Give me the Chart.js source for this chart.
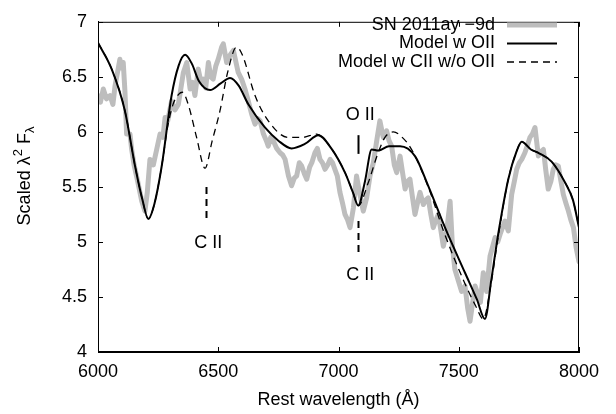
<!DOCTYPE html>
<html lang="en">
<head>
<meta charset="UTF-8">
<title>SN 2011ay spectrum</title>
<script src="https://cdn.jsdelivr.net/npm/chart.js@4.4.0/dist/chart.umd.js"></script>
<style>
  html, body { margin: 0; padding: 0; background: #fff; }
  canvas { display: block; }
</style>
</head>
<body>
<canvas id="spec" width="616" height="414"></canvas>
<script>
// Observed spectrum (gray)
const obsWave = [6000, 6010, 6022, 6035, 6050, 6062, 6071, 6082, 6091, 6100, 6105, 6112, 6119, 6133, 6140,
  6150, 6165, 6182, 6195, 6205, 6216, 6230, 6244, 6258, 6270, 6279, 6290, 6306, 6320, 6334, 6345, 6355,
  6369, 6383, 6393, 6403, 6417, 6428, 6438, 6448, 6459, 6469, 6479, 6490, 6500, 6514, 6521, 6535, 6550,
  6563, 6583, 6597, 6611, 6625, 6639, 6653, 6665, 6674, 6688, 6700, 6708, 6718, 6729, 6743, 6757, 6768,
  6778, 6792, 6805, 6816, 6826, 6837, 6847, 6858, 6868, 6880, 6889, 6902, 6912, 6923, 6933, 6944, 6955,
  6965, 6975, 6985, 6995, 7006, 7017, 7027, 7038, 7048, 7062, 7075, 7089, 7103, 7117, 7131, 7145, 7159,
  7172, 7186, 7200, 7210, 7221, 7232, 7242, 7256, 7267, 7277, 7287, 7297, 7308, 7318, 7328, 7339, 7353,
  7363, 7373, 7384, 7394, 7405, 7415, 7426, 7436, 7450, 7464, 7474, 7484, 7498, 7512, 7526, 7537, 7547,
  7558, 7568, 7580, 7590, 7602, 7616, 7630, 7640, 7651, 7662, 7672, 7692, 7706, 7720, 7731, 7741, 7752,
  7762, 7775, 7786, 7796, 7806, 7817, 7831, 7842, 7852, 7862, 7872, 7883, 7893, 7903, 7914, 7925, 7935,
  7946, 7956, 7966, 7977, 7988, 8000];
const obsFlux = [6.33, 6.27, 6.39, 6.30, 6.33, 6.25, 6.42, 6.55, 6.66, 6.58, 6.63, 6.37, 5.98, 5.98, 5.84,
  5.70, 5.55, 5.37, 5.28, 5.45, 5.75, 5.70, 5.84, 5.98, 5.95, 6.13, 6.10, 6.28, 6.20, 6.25, 6.40, 6.54,
  6.63, 6.39, 6.45, 6.33, 6.57, 6.45, 6.48, 6.40, 6.63, 6.50, 6.48, 6.60, 6.66, 6.77, 6.80, 6.63, 6.70,
  6.74, 6.54, 6.48, 6.39, 6.28, 6.16, 6.07, 6.12, 6.10, 5.98, 5.92, 5.87, 5.95, 5.92, 5.85, 5.81, 5.79,
  5.75, 5.60, 5.51, 5.58, 5.60, 5.72, 5.69, 5.62, 5.57, 5.68, 5.72, 5.81, 5.85, 5.75, 5.72, 5.66, 5.70,
  5.75, 5.72, 5.66, 5.60, 5.45, 5.35, 5.25, 5.20, 5.13, 5.31, 5.60, 5.43, 5.28, 5.40, 5.60, 5.72, 5.92,
  6.10, 5.95, 6.01, 5.92, 5.87, 5.70, 5.63, 5.78, 5.62, 5.48, 5.55, 5.57, 5.40, 5.25, 5.35, 5.45, 5.34,
  5.38, 5.40, 5.25, 5.13, 5.20, 5.25, 5.10, 4.96, 5.10, 5.37, 4.95, 4.75, 4.65, 4.55, 4.60, 4.40, 4.28,
  4.45, 4.60, 4.52, 4.45, 4.72, 4.55, 4.87, 4.95, 5.04, 5.00, 5.07, 5.19, 5.10, 5.43, 5.55, 5.66, 5.72,
  5.75, 5.81, 5.88, 5.95, 5.98, 6.04, 5.78, 5.82, 5.84, 5.65, 5.48, 5.55, 5.66, 5.70, 5.69, 5.55, 5.43,
  5.35, 5.28, 5.20, 5.13, 4.95, 4.82];

// Model with O II (solid black)
const modelWave = [6000, 6057, 6112, 6154, 6185, 6209, 6235, 6265, 6306, 6335, 6362, 6390, 6420, 6466,
  6510, 6549, 6585, 6625, 6694, 6750, 6805, 6860, 6916, 6970, 7027, 7060, 7082, 7110, 7138, 7166, 7210,
  7256, 7318, 7373, 7443, 7526, 7575, 7609, 7635, 7664, 7706, 7740, 7762, 7800, 7831, 7886, 7942, 7975, 8000];
const modelFlux = [6.81, 6.57, 6.19, 5.69, 5.38, 5.21, 5.35, 5.69, 6.33, 6.60, 6.70, 6.62, 6.46, 6.38,
  6.44, 6.49, 6.42, 6.25, 6.04, 5.92, 5.85, 5.89, 5.97, 5.85, 5.63, 5.45, 5.33, 5.55, 5.84, 5.83, 5.87,
  5.87, 5.78, 5.51, 5.13, 4.72, 4.48, 4.30, 4.65, 5.07, 5.57, 5.82, 5.91, 5.84, 5.81, 5.73, 5.54, 5.38, 5.13];

// Model with C II, without O II (dashed)
const noOWave = [6000, 6057, 6112, 6154, 6185, 6209, 6235, 6265, 6290, 6312, 6335, 6351, 6375, 6410,
  6445, 6475, 6507, 6540, 6576, 6600, 6653, 6708, 6791, 6850, 6909, 6970, 7027, 7060, 7082, 7124, 7160,
  7193, 7228, 7265, 7304, 7373, 7440, 7520, 7570, 7602, 7635, 7664, 7706, 7740, 7762, 7800, 7831, 7886,
  7942, 7975, 8000];
const noOFlux = [6.81, 6.57, 6.19, 5.69, 5.38, 5.21, 5.35, 5.69, 6.05, 6.25, 6.34, 6.36, 6.25, 5.95,
  5.67, 5.92, 6.19, 6.55, 6.77, 6.70, 6.33, 6.10, 5.95, 5.95, 5.98, 5.85, 5.63, 5.45, 5.33, 5.54, 5.78,
  5.95, 6.00, 5.95, 5.84, 5.50, 5.08, 4.65, 4.42, 4.30, 4.63, 5.05, 5.57, 5.82, 5.91, 5.84, 5.81, 5.73,
  5.54, 5.38, 5.13];

const seriesLabels = ['SN 2011ay \u22129d', 'Model w OII', 'Model w CII w/o OII'];

// line identifications: [wavelength, y from, y to, dashed, label, label y]
const lineIds = [
  [6450, 5.5, 5.2, true, 'C II', 4.99],
  [7082, 5.97, 5.80, false, 'O II', 6.15],
  [7082, 5.19, 4.90, true, 'C II', 4.70]
];

const FONT = '"Liberation Sans", Arial, Helvetica, sans-serif';
const toPts = (xs, ys) => xs.map((x, i) => ({ x, y: ys[i] }));

const decorPlugin = {
  id: 'decor',
  afterDraw(chart) {
    const ctx = chart.ctx;
    const xs = chart.scales.x, ys = chart.scales.y;
    const a = chart.chartArea;
    ctx.save();

    // frame + inward ticks
    ctx.strokeStyle = '#000';
    ctx.lineWidth = 1;
    ctx.strokeRect(a.left + 0.5, a.top + 0.5, a.right - a.left - 1, a.bottom - a.top - 1);
    ctx.beginPath();
    xs.ticks.forEach(t => {
      const px = Math.round(xs.getPixelForValue(t.value)) + 0.5;
      ctx.moveTo(px, a.bottom); ctx.lineTo(px, a.bottom - 5);
      ctx.moveTo(px, a.top); ctx.lineTo(px, a.top + 5);
    });
    ys.ticks.forEach(t => {
      const py = Math.round(ys.getPixelForValue(t.value)) + 0.5;
      ctx.moveTo(a.left, py); ctx.lineTo(a.left + 5, py);
      ctx.moveTo(a.right, py); ctx.lineTo(a.right - 5, py);
    });
    ctx.stroke();

    // line identifications
    ctx.fillStyle = '#000';
    ctx.font = '18px ' + FONT;
    ctx.textAlign = 'center';
    ctx.textBaseline = 'middle';
    lineIds.forEach(([w, y0, y1, dashed, txt, ty]) => {
      const px = Math.round(xs.getPixelForValue(w)) + 0.5;
      ctx.lineWidth = 2;
      ctx.setLineDash(dashed ? [7, 5] : []);
      ctx.beginPath();
      ctx.moveTo(px, ys.getPixelForValue(y0));
      ctx.lineTo(px, ys.getPixelForValue(y1));
      ctx.stroke();
      ctx.setLineDash([]);
      ctx.fillText(txt, xs.getPixelForValue(w) + 2, ys.getPixelForValue(ty));
    });

    // legend (text right-aligned, sample on the right)
    const rows = [25, 43.5, 62];
    chart.data.datasets.forEach((ds, i) => {
      ctx.textAlign = 'right';
      ctx.fillText(ds.label, 495, rows[i]);
      ctx.strokeStyle = ds.borderColor;
      ctx.lineWidth = ds.borderWidth;
      ctx.lineCap = 'butt';
      ctx.setLineDash(ds.borderDash || []);
      ctx.beginPath();
      ctx.moveTo(507, rows[i]);
      ctx.lineTo(557, rows[i]);
      ctx.stroke();
      ctx.setLineDash([]);
    });

    // axis titles
    ctx.textAlign = 'center';
    ctx.fillText('Rest wavelength (\u00c5)', (a.left + a.right) / 2, 400);

    ctx.translate(25, 176);
    ctx.rotate(-Math.PI / 2);
    const parts = [
      ['Scaled \u03bb', 18, 0],
      ['2', 13, -7],
      [' F', 18, 0],
      ['\u03bb', 13, 5]
    ];
    let total = 0;
    parts.forEach(p => { ctx.font = p[1] + 'px ' + FONT; total += ctx.measureText(p[0]).width; });
    let cx = -total / 2;
    ctx.textAlign = 'left';
    parts.forEach(p => {
      ctx.font = p[1] + 'px ' + FONT;
      ctx.fillText(p[0], cx, p[2]);
      cx += ctx.measureText(p[0]).width;
    });
    ctx.restore();
  }
};

new Chart(document.getElementById('spec'), {
  type: 'line',
  data: {
    datasets: [
      {
        label: seriesLabels[0],
        data: toPts(obsWave, obsFlux),
        borderColor: '#bdbdbd',
        borderWidth: 5,
        pointRadius: 0,
        tension: 0,
        borderJoinStyle: 'round',
        borderCapStyle: 'round',
        order: 3
      },
      {
        label: seriesLabels[1],
        data: toPts(modelWave, modelFlux),
        borderColor: '#000',
        borderWidth: 2,
        pointRadius: 0,
        cubicInterpolationMode: 'monotone',
        order: 1
      },
      {
        label: seriesLabels[2],
        data: toPts(noOWave, noOFlux),
        borderColor: '#000',
        borderWidth: 1.3,
        borderDash: [7, 5],
        pointRadius: 0,
        cubicInterpolationMode: 'monotone',
        order: 2
      }
    ]
  },
  options: {
    responsive: false,
    animation: false,
    events: [],
    layout: { padding: { top: 11, right: 37, left: 0, bottom: 0 } },
    plugins: { legend: { display: false }, tooltip: { enabled: false } },
    scales: {
      x: {
        type: 'linear',
        min: 6000,
        max: 8000,
        grid: { display: false, drawTicks: false },
        border: { display: true, color: '#000', width: 1 },
        ticks: { stepSize: 500, color: '#000', padding: 9, font: { size: 18, family: FONT }, maxRotation: 0,
          callback: v => String(v) },
        afterFit: s => { s.height = 62; }
      },
      y: {
        min: 4,
        max: 7,
        grid: { display: false, drawTicks: false },
        border: { display: true, color: '#000', width: 1 },
        ticks: { stepSize: 0.5, color: '#000', padding: 11, font: { size: 18, family: FONT },
          callback: v => String(v) },
        afterFit: s => { s.width = 98; }
      }
    }
  },
  plugins: [decorPlugin]
});
</script>
</body>
</html>
